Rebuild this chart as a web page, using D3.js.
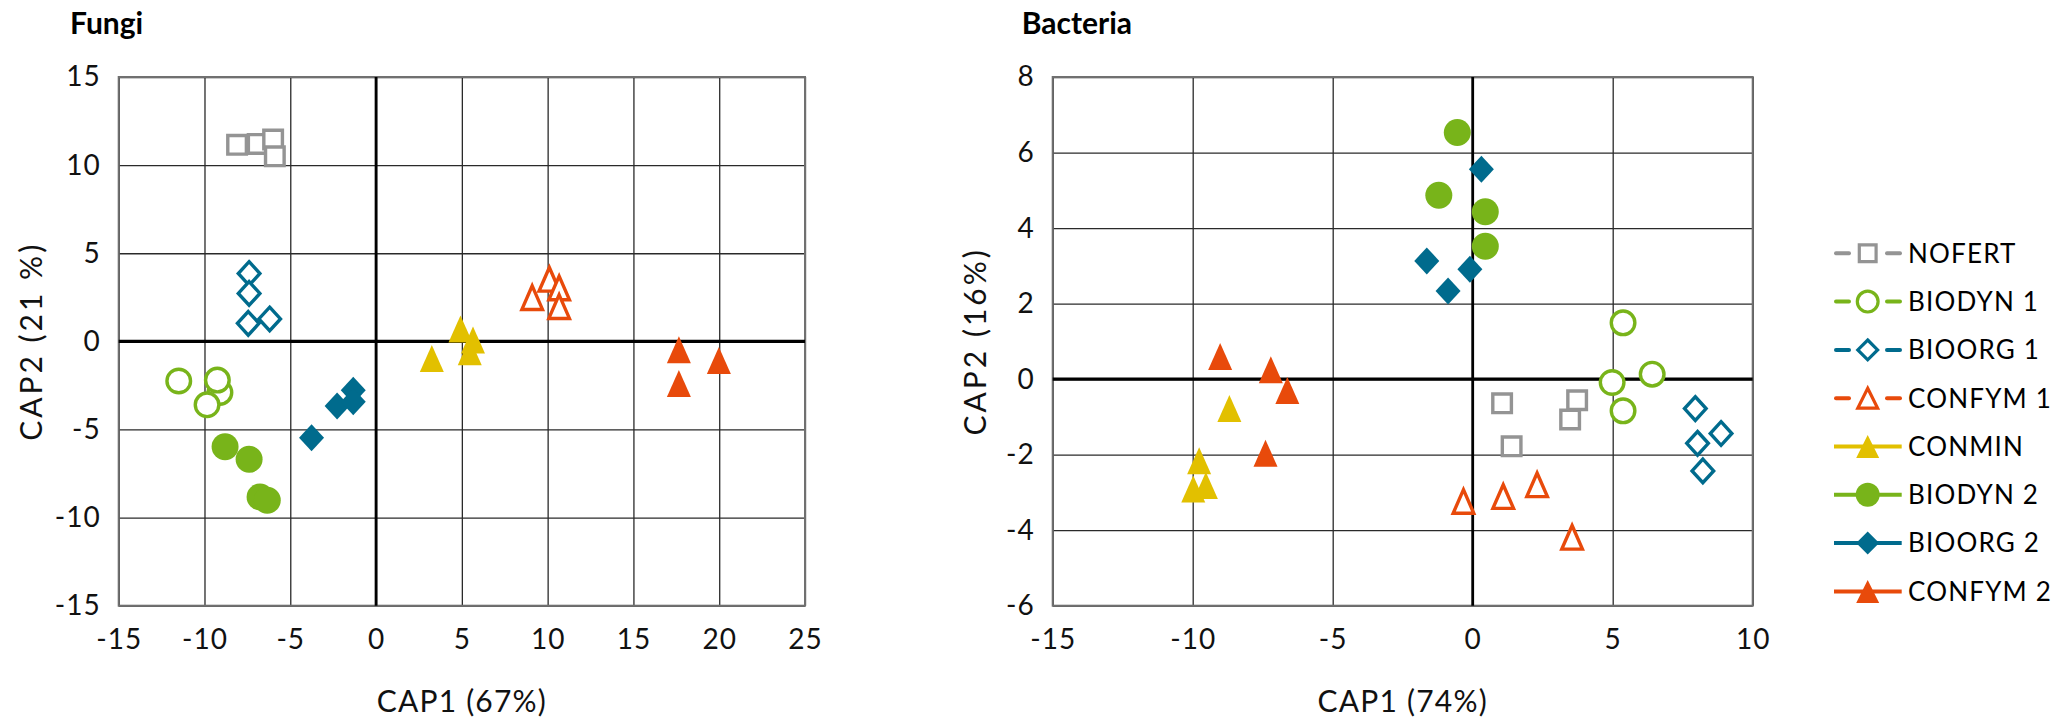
<!DOCTYPE html>
<html>
<head>
<meta charset="utf-8">
<script src="https://cdn.jsdelivr.net/npm/d3@7"></script>
<style>
  html, body { margin: 0; padding: 0; background: #fff; }
  svg { display: block; font-family: Lato, "Open Sans", sans-serif; }
</style>
</head>
<body>
<svg id="chart" width="2060" height="718"></svg>
<script>
// Treatment groups, in legend order
const seriesNames = ["NOFERT", "BIODYN 1", "BIOORG 1", "CONFYM 1", "CONMIN", "BIODYN 2", "BIOORG 2", "CONFYM 2"];
const seriesColors = ["#949494", "#78b41a", "#006b8d", "#e84a0b", "#e2c000", "#78b41a", "#006b8d", "#e84a0b"];
const seriesShapes = ["square", "circle", "diamond", "triangle", "triangle", "circle", "diamond", "triangle"];
const seriesFilled = [false, false, false, false, true, true, true, true];

// Fungi CAP scores [CAP1, CAP2]
const fungiNofert  = [[-8.1, 11.15], [-6.9, 11.2], [-6.0, 11.45], [-5.9, 10.5]];
const fungiBiodyn1 = [[-11.5, -2.25], [-9.1, -2.9], [-9.25, -2.2], [-9.85, -3.6]];
const fungiBioorg1 = [[-7.4, 3.85], [-7.4, 2.72], [-7.45, 1.02], [-6.2, 1.27]];
const fungiConfym1 = [[9.1, 2.48], [10.1, 3.52], [10.67, 3.03], [10.67, 1.97]];
const fungiConmin  = [[3.25, -0.98], [4.92, 0.7], [5.65, 0.08], [5.46, -0.59]];
const fungiBiodyn2 = [[-8.8, -5.98], [-7.4, -6.69], [-6.76, -8.83], [-6.34, -9.02]];
const fungiBioorg2 = [[-3.76, -5.47], [-2.27, -3.67], [-1.33, -2.77], [-1.33, -3.43]];
const fungiConfym2 = [[17.65, -0.47], [19.98, -1.08], [17.65, -2.39]];

// Bacteria CAP scores [CAP1, CAP2]
const bacteriaNofert  = [[1.05, -0.64], [3.73, -0.56], [3.48, -1.07], [1.39, -1.78]];
const bacteriaBiodyn1 = [[5.37, 1.49], [4.98, -0.09], [6.41, 0.13], [5.37, -0.84]];
const bacteriaBioorg1 = [[7.95, -0.78], [8.87, -1.44], [8.03, -1.70], [8.22, -2.43]];
const bacteriaConfym1 = [[-0.33, -3.24], [1.09, -3.11], [2.30, -2.80], [3.55, -4.19]];
const bacteriaConmin  = [[-8.69, -0.78], [-9.77, -2.16], [-9.53, -2.82], [-9.98, -2.91]];
const bacteriaBiodyn2 = [[-0.55, 6.53], [-1.21, 4.87], [0.45, 4.43], [0.45, 3.52]];
const bacteriaBioorg2 = [[0.31, 5.56], [-1.64, 3.13], [-0.10, 2.91], [-0.88, 2.33]];
const bacteriaConfym2 = [[-9.02, 0.60], [-7.21, 0.25], [-6.62, -0.30], [-7.40, -1.96]];

// Axis ticks
const fungiXTicks = [-15, -10, -5, 0, 5, 10, 15, 20, 25];
const fungiYTicks = [-15, -10, -5, 0, 5, 10, 15];
const bacteriaXTicks = [-15, -10, -5, 0, 5, 10];
const bacteriaYTicks = [-6, -4, -2, 0, 2, 4, 6, 8];

const svg = d3.select("#chart");

// Marker outline centred on (0,0) inside a w x h box
function markerPath(shape, w, h) {
  const a = w / 2, b = h / 2;
  if (shape === "square") return `M${-a},${-b}H${a}V${b}H${-a}Z`;
  if (shape === "diamond") return `M0,${-b}L${a},0L0,${b}L${-a},0Z`;
  if (shape === "triangle") return `M0,${-b}L${a},${b}L${-a},${b}Z`;
  return null;
}

function drawMarker(g, shape, color, filled, size, stroke) {
  const s = size[shape];
  const w = s[0], h = s[1];
  let el;
  if (shape === "circle") {
    el = g.append("circle").attr("r", filled ? w / 2 : w / 2 - stroke / 2);
  } else {
    el = g.append("path")
      .attr("d", markerPath(shape, filled ? w : w - stroke, filled ? h : h - stroke))
      .attr("stroke-linejoin", "miter");
  }
  if (filled) {
    el.attr("fill", color).attr("stroke", "none");
  } else {
    el.attr("fill", "#fff").attr("stroke", color).attr("stroke-width", stroke);
  }
}

const plotMarkerSize = { square: [22, 22], circle: [27, 27], diamond: [25, 27], triangle: [24, 27] };

function drawPanel(cfg) {
  const { left, right, top, bottom, xDomain, yDomain, xTicks, yTicks, title, titleX, xLabel, yLabel, yLabelX, series } = cfg;
  const x = d3.scaleLinear().domain(xDomain).range([left, right]);
  const y = d3.scaleLinear().domain(yDomain).range([bottom, top]);
  const g = svg.append("g");

  // gridlines
  g.append("g")
    .attr("transform", `translate(0,${bottom})`)
    .call(d3.axisBottom(x).tickValues(xTicks).tickSize(-(bottom - top)).tickFormat(""))
    .call(s => s.select(".domain").remove())
    .call(s => s.selectAll("line").attr("stroke", "#2a2a2a").attr("stroke-width", 1.3));
  g.append("g")
    .attr("transform", `translate(${left},0)`)
    .call(d3.axisLeft(y).tickValues(yTicks).tickSize(-(right - left)).tickFormat(""))
    .call(s => s.select(".domain").remove())
    .call(s => s.selectAll("line").attr("stroke", "#2a2a2a").attr("stroke-width", 1.3));

  // plot frame
  g.append("rect")
    .attr("x", left).attr("y", top)
    .attr("width", right - left).attr("height", bottom - top)
    .attr("fill", "none").attr("stroke", "#707070").attr("stroke-width", 2);

  // zero axes
  g.append("line")
    .attr("x1", left).attr("x2", right).attr("y1", y(0)).attr("y2", y(0))
    .attr("stroke", "#000").attr("stroke-width", 3.4);
  g.append("line")
    .attr("x1", x(0)).attr("x2", x(0)).attr("y1", top).attr("y2", bottom)
    .attr("stroke", "#000").attr("stroke-width", 2.8);

  // tick labels
  const fmt = d => String(d);
  g.append("g")
    .attr("transform", `translate(0,${bottom})`)
    .call(d3.axisBottom(x).tickValues(xTicks).tickSize(0).tickFormat(fmt))
    .call(s => s.select(".domain").remove())
    .call(s => s.selectAll("text")
      .attr("y", 43).attr("dy", null).attr("letter-spacing", 1)
      .attr("font-size", 28).attr("font-family", "Lato, sans-serif").attr("fill", "#111"));
  g.append("g")
    .attr("transform", `translate(${left},0)`)
    .call(d3.axisLeft(y).tickValues(yTicks).tickSize(0).tickPadding(18).tickFormat(fmt))
    .call(s => s.select(".domain").remove())
    .call(s => s.selectAll("text").attr("letter-spacing", 1)
      .attr("font-size", 28).attr("font-family", "Lato, sans-serif").attr("fill", "#111"));

  // title
  g.append("text")
    .attr("x", titleX).attr("y", 34)
    .attr("font-size", 30).attr("font-weight", 700)
    .attr("fill", "#000").text(title);

  // axis titles
  g.append("text")
    .attr("x", (left + right) / 2).attr("y", 712)
    .attr("text-anchor", "middle").attr("font-size", 30).attr("letter-spacing", 1.2).attr("fill", "#111")
    .text(xLabel);
  g.append("text")
    .attr("transform", `translate(${yLabelX},${(top + bottom) / 2}) rotate(-90)`)
    .attr("text-anchor", "middle").attr("font-size", 30).attr("letter-spacing", 3).attr("fill", "#111")
    .text(yLabel);

  // points
  series.forEach((pts, i) => {
    const sg = g.append("g");
    pts.forEach(p => {
      const mg = sg.append("g").attr("transform", `translate(${x(p[0])},${y(p[1])})`);
      drawMarker(mg, seriesShapes[i], seriesColors[i], seriesFilled[i], plotMarkerSize, 3.4);
    });
  });
}

drawPanel({
  left: 118.7, right: 805, top: 77, bottom: 605.7,
  xDomain: [-15, 25], yDomain: [-15, 15],
  xTicks: fungiXTicks, yTicks: fungiYTicks,
  title: "Fungi", titleX: 70,
  xLabel: "CAP1 (67%)", yLabel: "CAP2 (21 %)", yLabelX: 42,
  series: [fungiNofert, fungiBiodyn1, fungiBioorg1, fungiConfym1, fungiConmin, fungiBiodyn2, fungiBioorg2, fungiConfym2]
});

drawPanel({
  left: 1052.7, right: 1752.7, top: 77, bottom: 605.7,
  xDomain: [-15, 10], yDomain: [-6, 8],
  xTicks: bacteriaXTicks, yTicks: bacteriaYTicks,
  title: "Bacteria", titleX: 1021.7,
  xLabel: "CAP1 (74%)", yLabel: "CAP2 (16%)", yLabelX: 986,
  series: [bacteriaNofert, bacteriaBiodyn1, bacteriaBioorg1, bacteriaConfym1, bacteriaConmin, bacteriaBiodyn2, bacteriaBioorg2, bacteriaConfym2]
});

// legend
const legendMarkerSize = { square: [20, 20], circle: [24, 24], diamond: [23, 23], triangle: [23, 23] };
const legend = svg.append("g");
seriesNames.forEach((name, i) => {
  const cy = 253.3 + i * 48.3;
  const row = legend.append("g").attr("transform", `translate(0,${cy})`);
  const c = seriesColors[i];
  if (seriesFilled[i]) {
    row.append("line").attr("x1", 1834).attr("x2", 1901.7).attr("y1", 0).attr("y2", 0)
      .attr("stroke", c).attr("stroke-width", 4);
  } else {
    row.append("line").attr("x1", 1836).attr("x2", 1849).attr("y1", 0).attr("y2", 0)
      .attr("stroke", c).attr("stroke-width", 4).attr("stroke-linecap", "round");
    row.append("line").attr("x1", 1887).attr("x2", 1900).attr("y1", 0).attr("y2", 0)
      .attr("stroke", c).attr("stroke-width", 4).attr("stroke-linecap", "round");
  }
  const mg = row.append("g").attr("transform", "translate(1867.7,0)");
  drawMarker(mg, seriesShapes[i], c, seriesFilled[i], legendMarkerSize, 3.2);
  row.append("text")
    .attr("x", 1908).attr("y", 0).attr("dy", "0.36em")
    .attr("font-size", 26).attr("letter-spacing", 1.2).attr("fill", "#000")
    .text(name);
});
</script>
</body>
</html>
